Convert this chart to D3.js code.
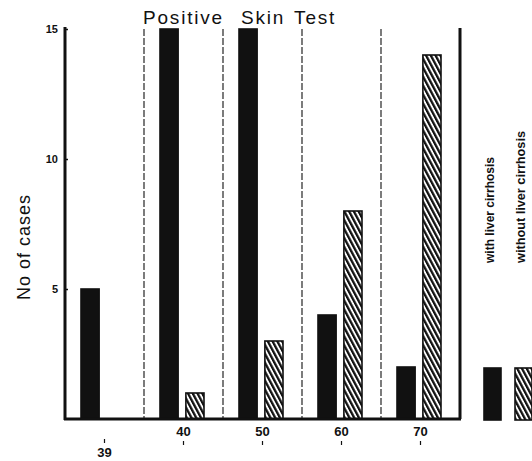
<!DOCTYPE html>
<html>
<head>
<meta charset="UTF-8" />
<script src="https://cdn.jsdelivr.net/npm/d3@7"></script>
<style>
    body { margin: 0; background: white; }
    svg { display: block; font-family: "Liberation Sans", Arial, sans-serif; }
</style>
</head>
<body>
<div id="chart"></div>
<script>
const ageGroups = ["39", "40", "50", "60", "70"];
const seriesNames = ["with liver cirrhosis", "without liver cirrhosis"];
const withCirrhosis = [5, 15, 15, 4, 2];
const withoutCirrhosis = [0, 1, 3, 8, 14];
const yTicks = [5, 10, 15];

const w = 532, h = 461;
const ink = "#111";

const svg = d3.select("#chart").append("svg")
    .attr("width", w).attr("height", h);

// hatch for the "without" bars
const defs = svg.append("defs");
const pat = defs.append("pattern")
    .attr("id", "hatch")
    .attr("patternUnits", "userSpaceOnUse")
    .attr("width", 4.2).attr("height", 8)
    .attr("patternTransform", "rotate(-28)");
pat.append("rect").attr("width", 4.2).attr("height", 8).attr("fill", "#fff");
pat.append("rect").attr("width", 2.3).attr("height", 8).attr("fill", ink);

const x0 = d3.scaleBand().domain(ageGroups).range([65, 460]).padding(0);
const x1 = d3.scaleBand().domain(seriesNames).range([16, 60]).paddingInner(0.3);
const y = d3.scaleLinear().domain([0, 15]).range([419, 29]);

const rows = ageGroups.map((g, i) => ({
    group: g,
    values: [
        {key: seriesNames[0], v: withCirrhosis[i]},
        {key: seriesNames[1], v: withoutCirrhosis[i]}
    ]
}));

// dashed separators between groups
svg.selectAll(".sep")
    .data(ageGroups.slice(1)).enter().append("line")
    .attr("class", "sep")
    .attr("x1", d => x0(d)).attr("x2", d => x0(d))
    .attr("y1", y(15)).attr("y2", y(0))
    .attr("stroke", ink).attr("stroke-width", 1.1)
    .attr("stroke-dasharray", "7,2");

// bars
const grp = svg.selectAll(".grp")
    .data(rows).enter().append("g")
    .attr("transform", d => "translate(" + x0(d.group) + ",0)");
grp.selectAll("rect")
    .data(d => d.values.filter(v => v.v > 0)).enter().append("rect")
    .attr("x", d => x1(d.key))
    .attr("y", d => y(d.v))
    .attr("width", x1.bandwidth())
    .attr("height", d => y(0) - y(d.v))
    .attr("fill", d => d.key === seriesNames[0] ? ink : "url(#hatch)")
    .attr("stroke", ink).attr("stroke-width", 1.6);

// y axis
const yAxis = d3.axisLeft(y).tickValues(yTicks).tickSize(3).tickPadding(4);
const ya = svg.append("g")
    .attr("transform", "translate(65,0)")
    .call(yAxis);
ya.select(".domain").remove();
ya.selectAll(".tick line").attr("x2", 3).attr("stroke", ink).attr("stroke-width", 1.5);
ya.selectAll(".tick text")
    .attr("font-size", 11).attr("font-weight", "bold")
    .attr("font-family", "Liberation Sans, Arial, sans-serif")
    .attr("fill", ink);
svg.append("line")
    .attr("x1", 65).attr("x2", 65).attr("y1", y(15) - 2).attr("y2", y(0) + 1)
    .attr("stroke", ink).attr("stroke-width", 3);

// baseline and right frame
svg.append("line")
    .attr("x1", 64).attr("x2", 461).attr("y1", y(0)).attr("y2", y(0))
    .attr("stroke", ink).attr("stroke-width", 3);
svg.append("line")
    .attr("x1", 460).attr("x2", 460).attr("y1", y(15) - 1).attr("y2", y(0))
    .attr("stroke", ink).attr("stroke-width", 3);

// x labels
const xl = svg.selectAll(".xl")
    .data(ageGroups).enter().append("g")
    .attr("transform", d => "translate(" + (x0(d) + x0.bandwidth() / 2) + ",0)");
xl.append("text")
    .attr("text-anchor", "middle")
    .attr("y", (d, i) => i === 0 ? 457 : 436)
    .attr("font-size", 13).attr("font-weight", "bold")
    .attr("fill", ink)
    .text(d => d);
xl.append("line")
    .attr("x1", 0).attr("x2", 0)
    .attr("y1", (d, i) => i === 0 ? 439 : 441)
    .attr("y2", (d, i) => i === 0 ? 443 : 445)
    .attr("stroke", ink).attr("stroke-width", 1.2);

// title
const title = svg.append("text")
    .attr("x", 143).attr("y", 24)
    .attr("font-size", 19).attr("letter-spacing", 1.8)
    .attr("fill", ink);
title.append("tspan").text("Positive");
title.append("tspan").attr("dx", 17).text("Skin");
title.append("tspan").attr("dx", 9).text("Test");

// y label
svg.append("text")
    .attr("transform", "translate(30,247) rotate(-90)")
    .attr("text-anchor", "middle")
    .attr("font-size", 18).attr("letter-spacing", 1)
    .attr("fill", ink)
    .text("No of cases");

// legend
const legendLen = [106, 132];
const leg = svg.selectAll(".leg")
    .data(seriesNames).enter().append("g")
    .attr("transform", (d, i) => "translate(" + (484 + i * 31) + ",0)");
leg.append("rect")
    .attr("x", 0).attr("y", 368)
    .attr("width", 17).attr("height", 52)
    .attr("fill", (d, i) => i === 0 ? ink : "url(#hatch)")
    .attr("stroke", ink).attr("stroke-width", 1.6);
leg.append("text")
    .attr("transform", "translate(10,263) rotate(-90)")
    .attr("font-size", 13.5).attr("font-weight", "bold")
    .attr("textLength", (d, i) => legendLen[i])
    .attr("lengthAdjust", "spacingAndGlyphs")
    .attr("fill", ink)
    .text(d => d);
</script>
</body>
</html>
